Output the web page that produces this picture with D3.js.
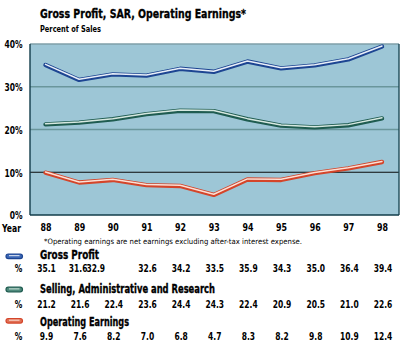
<!DOCTYPE html>
<html>
<head>
<meta charset="utf-8">
<script src="https://cdn.jsdelivr.net/npm/d3@7/dist/d3.min.js"></script>
<style>
  html, body { margin: 0; padding: 0; background: #ffffff; }
  svg { display: block; }
  text { font-family: "DejaVu Sans", "Liberation Sans", sans-serif; font-weight: bold; fill: #000; }
  text.heavy { stroke: #000; stroke-width: 0.35px; }
</style>
</head>
<body>
<svg id="chart" width="405" height="346"></svg>
<script>
// Fiscal years shown along the x axis
const years = ["88", "89", "90", "91", "92", "93", "94", "95", "96", "97", "98"];

// Percent of sales, by year
const grossProfit = [35.1, 31.6, 32.9, 32.6, 34.2, 33.5, 35.9, 34.3, 35.0, 36.4, 39.4];
const sellingAdminResearch = [21.2, 21.6, 22.4, 23.6, 24.4, 24.3, 22.4, 20.9, 20.5, 21.0, 22.6];
const operatingEarnings = [9.9, 7.6, 8.2, 7.0, 6.8, 4.7, 8.3, 8.2, 9.8, 10.9, 12.4];

// Y axis ticks
const yTicks = [0, 10, 20, 30, 40];

const series = [
  { name: "Gross Profit", values: grossProfit, dark: "#1d4592", mid: "#3a66b4", light: "#e8eef8" },
  { name: "Selling, Administrative and Research", values: sellingAdminResearch, dark: "#1f5c50", mid: "#4e8a7c", light: "#d6e8e0" },
  { name: "Operating Earnings", values: operatingEarnings, dark: "#d4452a", mid: "#e07055", light: "#fbe0d6" }
];

const fmt = d3.format(".1f");
const svg = d3.select("#chart");

const plot = { left: 30, right: 399, top: 44, bottom: 215 };

const x = d3.scalePoint().domain(years).range([45.5, 382]);
const y = d3.scaleLinear().domain([0, 40]).range([plot.bottom, plot.top]);

// Squeeze a text to a fixed width so it reads like a condensed face
function fitText(sel, width) {
  sel.attr("textLength", width).attr("lengthAdjust", "spacingAndGlyphs");
  return sel;
}
// Horizontal compression for short labels positioned by translate
const narrow = 0.72;

// Title block
fitText(svg.append("text").attr("class", "heavy").attr("x", 40).attr("y", 17.5)
  .style("font-size", "13px").text("Gross Profit, SAR, Operating Earnings*"), 206);
fitText(svg.append("text").attr("x", 40).attr("y", 32)
  .style("font-size", "8.5px").text("Percent of Sales"), 61);

// Plot background
svg.append("rect")
  .attr("x", plot.left).attr("y", plot.top)
  .attr("width", plot.right - plot.left).attr("height", plot.bottom - plot.top)
  .attr("fill", "#9dc6d6");

// Gridlines
svg.append("g").selectAll("line")
  .data(yTicks.filter(t => t > 0 && t < 40))
  .join("line")
  .attr("x1", plot.left).attr("x2", plot.right)
  .attr("y1", d => y(d)).attr("y2", d => y(d))
  .attr("stroke", d => d === 10 ? "#0b0b0b" : "#6a969c")
  .attr("stroke-width", d => d === 10 ? 1.2 : 1.6);

// Frame
svg.append("line").attr("x1", plot.left).attr("x2", plot.right)
  .attr("y1", plot.top).attr("y2", plot.top)
  .attr("stroke", "#7f9fa8").attr("stroke-width", 1.6);
svg.append("line").attr("x1", plot.left).attr("x2", plot.left)
  .attr("y1", plot.top).attr("y2", plot.bottom)
  .attr("stroke", "#123c4a").attr("stroke-width", 1.4);
svg.append("line").attr("x1", plot.right).attr("x2", plot.right)
  .attr("y1", plot.top).attr("y2", plot.bottom)
  .attr("stroke", "#1d4a58").attr("stroke-width", 1.4);
svg.append("line").attr("x1", plot.left).attr("x2", plot.right)
  .attr("y1", plot.bottom).attr("y2", plot.bottom)
  .attr("stroke", "#123c4a").attr("stroke-width", 1.6);

// Y axis labels
const yAxis = d3.axisLeft(y).tickValues(yTicks).tickFormat(d => d + "%").tickSize(0).tickPadding(0);
const yG = svg.append("g").attr("transform", "translate(22.5,0)").call(yAxis);
yG.select(".domain").remove();
yG.selectAll("text")
  .style("font-family", "'DejaVu Sans', sans-serif")
  .style("font-weight", "bold").style("font-size", "10.5px").attr("fill", "#000")
  .attr("dy", "0.36em")
  .attr("transform", `scale(${narrow},1)`);

// X axis labels
const xAxis = d3.axisBottom(x).tickSize(0).tickPadding(0);
const xG = svg.append("g").attr("transform", "translate(0,223.5)").call(xAxis);
xG.select(".domain").remove();
xG.selectAll("text")
  .style("font-family", "'DejaVu Sans', sans-serif")
  .style("font-weight", "bold").style("font-size", "11px").attr("fill", "#000")
  .attr("dy", "0.72em")
  .attr("transform", `scale(${narrow},1)`);
fitText(svg.append("text").attr("x", 2).attr("y", 232).style("font-size", "11px").text("Year"), 19);

// Lines drawn as tubes: dark body with a pale highlight
const line = d3.line().x((d, i) => x(years[i])).y(d => y(d));
series.forEach(s => {
  const g = svg.append("g");
  g.append("path").attr("d", line(s.values)).attr("fill", "none")
    .attr("stroke", s.dark).attr("stroke-width", 4.4)
    .attr("stroke-linejoin", "round").attr("stroke-linecap", "round");
  g.append("path").attr("d", line(s.values)).attr("fill", "none")
    .attr("transform", "translate(0,-0.6)")
    .attr("stroke", s.light).attr("stroke-width", 1.5)
    .attr("stroke-linejoin", "round").attr("stroke-linecap", "round");
});

// Footnote
fitText(svg.append("text").attr("x", 44).attr("y", 243.5)
  .style("font-size", "7.5px").style("font-weight", "normal")
  .text("*Operating earnings are net earnings excluding after-tax interest expense."), 258);

// Legend with data table
const swatchY = [256.3, 289.5, 320.8];
const nameY = [258.5, 292.5, 326];
const nameWidth = [59, 175, 89];
const valueY = [272.2, 307.5, 340];
// Hand-set nudges for crowded table labels (series index -> year -> dx)
const labelNudge = { 0: { "89": -2, "90": -18 } };

series.forEach((s, si) => {
  const cy = swatchY[si];
  svg.append("rect").attr("x", 6).attr("y", cy - 2.3).attr("width", 16.5).attr("height", 4.6)
    .attr("rx", 2.3).attr("fill", s.mid).attr("stroke", s.dark).attr("stroke-width", 1.2);
  svg.append("line").attr("x1", 9).attr("x2", 19.5).attr("y1", cy - 0.6).attr("y2", cy - 0.6)
    .attr("stroke", s.light).attr("stroke-width", 1);
  fitText(svg.append("text").attr("class", "heavy").attr("x", 40).attr("y", nameY[si])
    .style("font-size", "12px").text(s.name), nameWidth[si]);
  svg.append("text")
    .attr("transform", `translate(18.5,${valueY[si]}) scale(${narrow},1)`)
    .attr("text-anchor", "middle")
    .style("font-size", "10.5px").text("%");
  svg.append("g").selectAll("text")
    .data(s.values)
    .join("text")
    .attr("transform", (d, i) =>
      `translate(${x(years[i]) + 1 + ((labelNudge[si] || {})[years[i]] || 0)},${valueY[si]}) scale(${narrow},1)`)
    .attr("text-anchor", "middle")
    .style("font-size", "10.5px")
    .text(d => fmt(d));
});
</script>
</body>
</html>
